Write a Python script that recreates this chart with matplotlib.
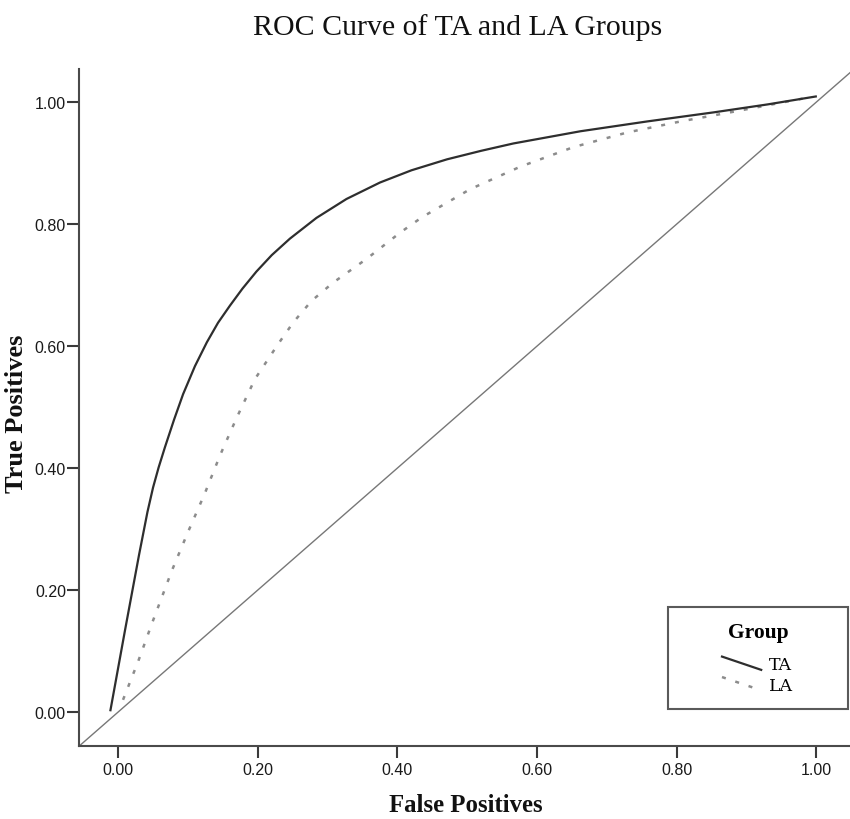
import numpy as np
from matplotlib import pyplot as plt
from matplotlib.lines import Line2D
from matplotlib.legend_handler import HandlerBase
from matplotlib.ticker import FormatStrFormatter

# ROC points (false positive rate, true positive rate)
ta_fpr = [-0.011, 0.010, 0.030, 0.042, 0.050, 0.058, 0.067, 0.080, 0.093, 0.110,
          0.127, 0.143, 0.160, 0.178, 0.198, 0.220, 0.246, 0.284, 0.327, 0.375,
          0.420, 0.471, 0.520, 0.566, 0.662, 0.757, 0.853, 0.930, 0.999]
ta_tpr = [0.003, 0.135, 0.258, 0.328, 0.368, 0.401, 0.434, 0.479, 0.521, 0.567,
          0.606, 0.638, 0.666, 0.694, 0.722, 0.749, 0.776, 0.810, 0.841, 0.868,
          0.888, 0.906, 0.920, 0.932, 0.952, 0.968, 0.983, 0.996, 1.009]

la_fpr = [0.007, 0.029, 0.049, 0.077, 0.100, 0.124, 0.146, 0.170, 0.196, 0.229,
          0.251, 0.277, 0.308, 0.356, 0.404, 0.435, 0.504, 0.576, 0.652, 0.729,
          0.805, 0.886, 0.987]
la_tpr = [0.020, 0.084, 0.147, 0.232, 0.295, 0.358, 0.421, 0.483, 0.546, 0.603,
          0.639, 0.674, 0.704, 0.743, 0.786, 0.811, 0.857, 0.894, 0.926, 0.950,
          0.968, 0.985, 1.007]

groups = ['TA', 'LA']
ticks = [0.0, 0.2, 0.4, 0.6, 0.8, 1.0]


class DiagonalHandler(HandlerBase):
    # legend sample drawn as a short slanted line, like the SPSS output
    def create_artists(self, legend, orig_handle, xdescent, ydescent,
                       width, height, fontsize, trans):
        x0 = -xdescent + 0.495 * width
        line = Line2D([x0, -xdescent + width], [-ydescent + height, -ydescent])
        self.update_prop(line, orig_handle, legend)
        line.set_transform(trans)
        return [line]


def main():
    fig = plt.figure(figsize=(8.5, 8.2), dpi=100)
    ax = fig.add_axes([0.0933, 0.0890, 0.9067, 0.8256])

    ax.axline((0, 0), (1, 1), color='#777777', lw=1.0, zorder=1)
    la_line, = ax.plot(la_fpr, la_tpr, color='#8c8c8c', lw=1.8,
                       dashes=(1.6, 4.0), dash_capstyle='butt', zorder=2)
    ta_line, = ax.plot(ta_fpr, ta_tpr, color='#2e2e2e', lw=1.6, zorder=3,
                       solid_joinstyle='round')

    ax.set_xlim(-0.0556, 1.048)
    ax.set_ylim(-0.0557, 1.054)
    ax.set_xticks(ticks)
    ax.set_yticks(ticks)
    ax.xaxis.set_major_formatter(FormatStrFormatter('%.2f'))
    ax.yaxis.set_major_formatter(FormatStrFormatter('%.2f'))

    for s in ['top', 'right']:
        ax.spines[s].set_visible(False)
    for s in ['left', 'bottom']:
        ax.spines[s].set_color('#4a4a4a')
        ax.spines[s].set_linewidth(1.5)

    ax.tick_params(axis='both', length=8.6, width=1.5, color='#3a3a3a',
                   labelcolor='#1a1a1a', labelsize=11.5)
    ax.tick_params(axis='y', pad=1)
    ax.tick_params(axis='x', pad=3)
    for lab in ax.get_xticklabels() + ax.get_yticklabels():
        lab.set_family('Liberation Sans')

    ax.set_xlabel('False Positives', family='Liberation Serif', weight='bold',
                  fontsize=17.8, va='center', color='#111111')
    ax.xaxis.set_label_coords(0.502, -0.0857)
    ax.set_ylabel('True Positives', family='Liberation Serif', weight='bold',
                  fontsize=19, va='center', color='#111111')
    ax.yaxis.set_label_coords(-0.081, 0.492)

    fig.text(458 / 850, 0.957, 'ROC Curve of TA and LA Groups',
             family='Liberation Serif', fontsize=21.5, ha='center', va='baseline',
             color='#111111')

    leg = ax.legend([ta_line, la_line], groups, title='Group',
                    handler_map={Line2D: DiagonalHandler()},
                    loc='center', bbox_to_anchor=(0.7638, 0.0487, 0.2336, 0.1625),
                    mode='expand', borderaxespad=0, borderpad=0.9,
                    handlelength=4.47, handleheight=0.8, handletextpad=0.44,
                    labelspacing=0.2, fancybox=False, shadow=False,
                    prop={'family': 'DejaVu Serif', 'size': 12.5},
                    title_fontproperties={'family': 'Liberation Serif',
                                          'weight': 'bold', 'size': 15.5})
    leg._legend_box.sep = 10.0
    frame = leg.get_frame()
    frame.set_edgecolor('#5a5a5a')
    frame.set_linewidth(1.5)
    frame.set_alpha(None)
    frame.set_facecolor('white')

    plt.savefig('out.png', dpi=100)


if __name__ == "__main__":
    main()
